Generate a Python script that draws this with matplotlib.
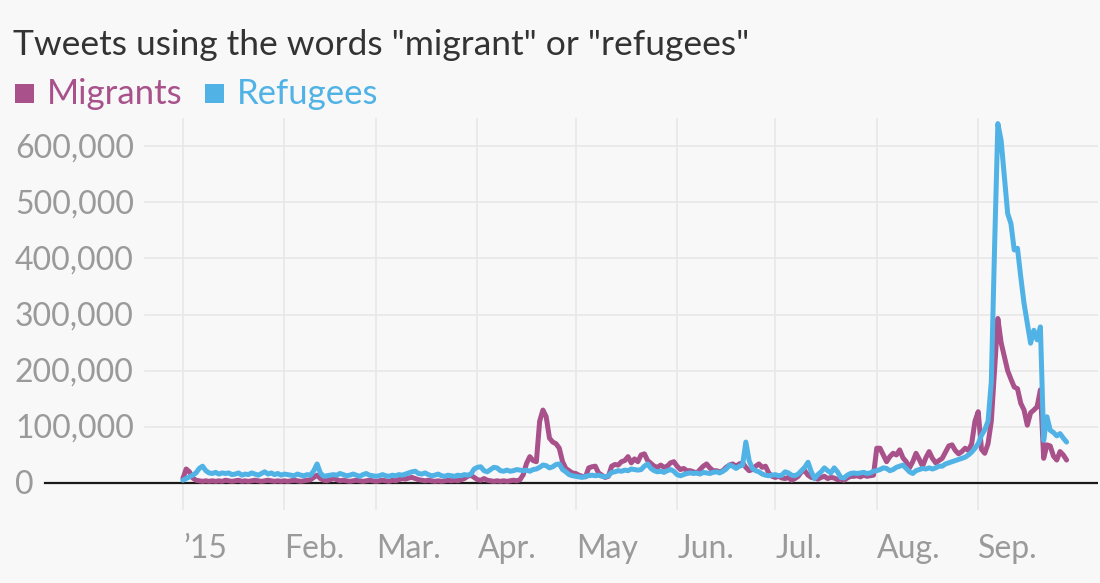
import matplotlib
matplotlib.use("Agg")
import matplotlib.pyplot as plt
import matplotlib.dates as mdates
from matplotlib.transforms import blended_transform_factory, offset_copy
from matplotlib.patches import Rectangle
import numpy as np
import pandas as pd

# Daily tweet counts in thousands, starting 1 January 2015
START = "2015-01-01"

migrants_k = [
    # Jan
    8, 25, 20, 9, 5, 4, 3, 4, 3, 4, 3, 4, 3, 5, 4, 3, 4, 5, 3, 4, 3, 4, 5, 4, 3, 4, 5, 4, 3, 4, 3,
    # Feb
    4, 3, 4, 5, 4, 3, 4, 5, 6, 10, 14, 8, 5, 4, 6, 8, 6, 4, 5, 4, 3, 4, 5, 4, 3, 4, 5, 4,
    # Mar
    3, 4, 5, 4, 3, 5, 4, 6, 8, 7, 9, 10, 8, 6, 5, 4, 5, 4, 3, 4, 3, 4, 5, 4, 5, 4, 6, 8, 12, 14, 10,
    # Apr
    6, 5, 8, 5, 4, 3, 4, 3, 4, 3, 4, 5, 4, 6, 15, 35, 47, 40, 38, 110, 130, 118, 80, 73, 70, 62, 38, 26, 22, 18,
    # May
    17, 14, 12, 11, 27, 29, 30, 18, 14, 10, 12, 30, 33, 32, 38, 40, 47, 36, 43, 38, 50, 52, 40, 35, 30, 28, 32, 28, 30, 36, 38,
    # Jun
    30, 24, 26, 22, 22, 20, 18, 24, 30, 34, 27, 22, 22, 20, 22, 28, 32, 34, 30, 34, 36, 28, 22, 24, 30, 34, 28, 30, 18, 12,
    # Jul
    10, 12, 9, 8, 10, 5, 8, 12, 20, 22, 14, 10, 9, 7, 10, 12, 8, 10, 9, 6, 7, 5, 9, 12, 12, 13, 11, 14, 12, 13, 14,
    # Aug
    62, 62, 50, 38, 47, 53, 50, 59, 45, 38, 27, 38, 53, 42, 30, 45, 56, 44, 36, 40, 44, 55, 66, 68, 58, 52, 56, 62, 58, 70, 110,
    # Sep
    127, 60, 53, 70, 110, 200, 293, 250, 225, 200, 185, 171, 168, 142, 130, 103, 125, 130, 136, 166, 44, 68, 66, 48, 41, 56, 50, 41,
]

refugees_k = [
    # Jan
    5, 8, 11, 14, 18, 26, 30, 22, 18, 17, 19, 16, 18, 17, 18, 15, 16, 18, 14, 16, 15, 18, 16, 14, 17, 20, 16, 18, 15, 17, 14,
    # Feb
    16, 15, 14, 13, 16, 14, 13, 15, 14, 22, 34, 18, 12, 13, 14, 15, 14, 17, 15, 13, 14, 16, 14, 12, 15, 17, 14, 13,
    # Mar
    12, 13, 15, 13, 12, 14, 13, 15, 14, 16, 18, 20, 21, 17, 16, 18, 15, 13, 14, 16, 13, 12, 14, 13, 12, 14, 13, 15, 14, 16, 25,
    # Apr
    28, 29, 22, 20, 24, 28, 27, 22, 21, 23, 21, 22, 24, 23, 22, 23, 21, 24, 25, 28, 32, 31, 27, 29, 33, 34, 24, 20, 15, 13,
    # May
    12, 11, 10, 12, 13, 14, 13, 14, 12, 11, 13, 19, 20, 22, 21, 23, 22, 25, 24, 23, 24, 30, 34, 26, 22, 20, 21, 19, 22, 24, 21,
    # Jun
    15, 13, 15, 17, 18, 17, 18, 16, 19, 18, 17, 19, 20, 18, 21, 25, 32, 30, 26, 30, 32, 73, 40, 26, 22, 20, 16, 14, 13, 14,
    # Jul
    15, 13, 14, 20, 18, 14, 13, 16, 22, 28, 37, 20, 8, 15, 20, 27, 22, 18, 27, 20, 10, 9, 14, 17, 18, 17, 18, 19, 17, 18, 21,
    # Aug
    22, 24, 27, 26, 22, 24, 28, 30, 32, 26, 20, 17, 22, 24, 26, 25, 27, 25, 27, 30, 30, 34, 36, 38, 40, 42, 44, 46, 50, 55, 62,
    # Sep
    70, 85, 95, 110, 180, 420, 640, 610, 545, 480, 462, 415, 418, 367, 320, 285, 249, 272, 255, 278, 76, 118, 94, 90, 84, 88, 80, 73,
]

y_ticks = [0, 100000, 200000, 300000, 400000, 500000, 600000]
y_tick_labels = ["0", "100,000", "200,000", "300,000", "400,000", "500,000", "600,000"]
month_starts = ["2015-01-01", "2015-02-01", "2015-03-01", "2015-04-01", "2015-05-01",
                "2015-06-01", "2015-07-01", "2015-08-01", "2015-09-01"]
month_labels = ["\u201915", "Feb.", "Mar.", "Apr.", "May", "Jun.", "Jul.", "Aug.", "Sep."]
series_names = ["Migrants", "Refugees"]

MAGENTA = "#a8518a"
BLUE = "#51b2e5"
BG = "#f8f8f8"
GRID = "#e8e8e8"
TICK_GRAY = "#9a9a9a"
FONT = ["Lato", "DejaVu Sans"]

W, H = 1100, 583
plt.rcParams["font.family"] = FONT

fig = plt.figure(figsize=(W / 100, H / 100), dpi=100)
fig.patch.set_facecolor(BG)

ax_left, ax_right, ax_top, ax_bottom = 15, 1098, 118, 510
ax = fig.add_axes([ax_left / W, (H - ax_bottom) / H,
                   (ax_right - ax_left) / W, (ax_bottom - ax_top) / H])
ax.set_facecolor(BG)
for s in ax.spines.values():
    s.set_visible(False)

dates = pd.date_range(START, periods=len(migrants_k), freq="D")
migrants = np.array(migrants_k) * 1000
refugees = np.array(refugees_k) * 1000

t0 = mdates.date2num(dates[0])
ax.set_xlim(t0 - 51.3, t0 + 279.6)
ax.set_ylim(-48000, 650000)

# vertical month gridlines
ax.set_xticks(pd.to_datetime(month_starts))
ax.grid(axis="x", color=GRID, lw=1.2, zorder=0)
ax.tick_params(length=0, labelbottom=False, labelleft=False)
ax.set_yticks([])

# series
ax.plot(dates, migrants, color=MAGENTA, lw=3.6, solid_joinstyle="round",
        solid_capstyle="round", zorder=3)
ax.plot(dates, refugees, color=BLUE, lw=3.6, solid_joinstyle="round",
        solid_capstyle="round", zorder=4)

# y labels sit inside the plot, with gridlines starting after them
ytrans = offset_copy(blended_transform_factory(ax.transAxes, ax.transData),
                     fig=fig, y=-8, units="points")
ylabels = []
for v, lab in zip(y_ticks, y_tick_labels):
    t = ax.text(0, v, lab, transform=ytrans, ha="left", va="baseline",
                fontsize=23, color=TICK_GRAY)
    ylabels.append(t)

fig.canvas.draw()
renderer = fig.canvas.get_renderer()
abox = ax.get_window_extent(renderer)
for v, t in zip(y_ticks, ylabels):
    bb = t.get_window_extent(renderer)
    xmin = (bb.x1 + 11 - abox.x0) / abox.width
    if v == 0:
        ax.axhline(v, xmin=xmin, xmax=1, color="#1a1a1a", lw=1.6, zorder=2)
    else:
        ax.axhline(v, xmin=xmin, xmax=1, color=GRID, lw=1.2, zorder=0)

# month labels, left-aligned to their gridline
xtrans = blended_transform_factory(ax.transData, fig.transFigure)
for d, lab in zip(pd.to_datetime(month_starts), month_labels):
    ax.text(mdates.date2num(d), (H - 558) / H, lab, transform=xtrans,
            ha="left", va="baseline", fontsize=23, color=TICK_GRAY)

# title
fig.text(13 / W, 1 - 55 / H, 'Tweets using the words "migrant" or "refugees"',
         ha="left", va="baseline", fontsize=25.5, color="#333333")

# legend
sq = 19
fig.patches.append(Rectangle((15 / W, 1 - 103 / H), sq / W, sq / H,
                             transform=fig.transFigure, facecolor=MAGENTA,
                             edgecolor="none"))
fig.text(47 / W, 1 - 104 / H, series_names[0], ha="left", va="baseline",
         fontsize=25, color=MAGENTA)
fig.patches.append(Rectangle((205 / W, 1 - 103 / H), sq / W, sq / H,
                             transform=fig.transFigure, facecolor=BLUE,
                             edgecolor="none"))
fig.text(237 / W, 1 - 104 / H, series_names[1], ha="left", va="baseline",
         fontsize=25, color=BLUE)

fig.savefig("out.png", dpi=100, facecolor=BG)
